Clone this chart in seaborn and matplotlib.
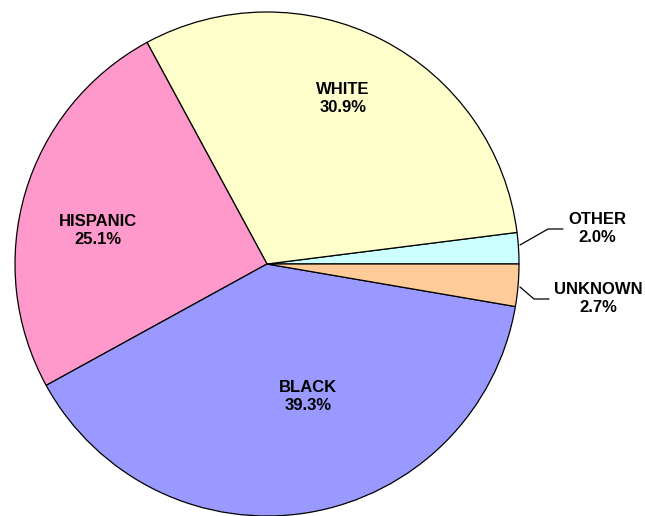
import matplotlib
matplotlib.use("Agg")
import matplotlib.pyplot as plt
import seaborn as sns

sns.set_theme(style="white")
plt.rcParams["font.family"] = ["Liberation Sans", "DejaVu Sans"]

# Share of cases by race / ethnicity
categories = ["OTHER", "WHITE", "HISPANIC", "BLACK", "UNKNOWN"]
shares = [2.0, 30.9, 25.1, 39.3, 2.7]
colors = ["#CCFFFF", "#FFFFCC", "#FF99CC", "#9999FF", "#FFCC99"]

W, H = 645, 516
CX, CY, R = 267, 264, 252  # pie centre and radius in pixels


def to_data(px, py):
    return (px - CX) / R, (CY - py) / R


fig = plt.figure(figsize=(W / 100, H / 100), dpi=100)
ax = fig.add_axes([0, 0, 1, 1])

ax.pie(shares, colors=colors, startangle=0, counterclock=True, radius=1,
       wedgeprops=dict(edgecolor="black", linewidth=0.9))

# pie() resets the limits, so set the view afterwards
ax.set_xlim(-CX / R, (W - CX) / R)
ax.set_ylim(-(H - CY) / R, CY / R)
ax.set_axis_off()

# label positions (pixel coordinates of each label's centre)
label_px = {
    "OTHER": (597, 229),
    "WHITE": (343, 99),
    "HISPANIC": (98, 231),
    "BLACK": (308, 396),
    "UNKNOWN": (598, 298),
}
for cat, val in zip(categories, shares):
    x, y = to_data(*label_px[cat])
    ax.text(x, y, f"{cat}\n{val:.1f}%", ha="center", va="center",
            fontsize=12, fontweight="bold", linespacing=1.25, color="black")

# leader lines for the two thin slices
leaders = {
    "OTHER": [(520, 245), (548, 229), (563, 229)],
    "UNKNOWN": [(520, 287), (534, 299), (549, 299)],
}
for pts in leaders.values():
    xs, ys = zip(*[to_data(*p) for p in pts])
    ax.plot(xs, ys, color="black", linewidth=0.9)

fig.savefig("out.png", dpi=100)
